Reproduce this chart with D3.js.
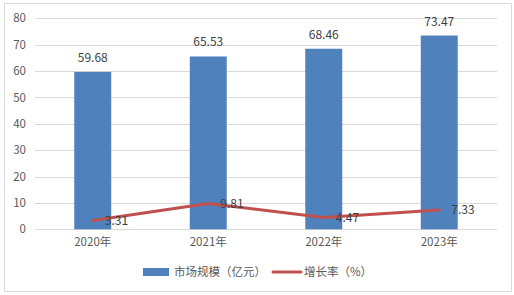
<!DOCTYPE html>
<html>
<head>
<meta charset="utf-8">
<script src="https://cdn.jsdelivr.net/npm/d3@7"></script>
<style>
  body { margin: 0; background: #fff; }
  text { font-family: "Noto Sans CJK SC", "DejaVu Sans", sans-serif; }
</style>
</head>
<body>
<svg id="chart" width="514" height="295"></svg>
<script>
var years = ["2020年", "2021年", "2022年", "2023年"];
var marketSize = [59.68, 65.53, 68.46, 73.47];
var growthRate = [3.31, 9.81, 4.47, 7.33];
var yTicks = [0, 10, 20, 30, 40, 50, 60, 70, 80];
var legendNames = ["市场规模（亿元）", "增长率（%）"];

var svg = d3.select("#chart");

var margin = { left: 35, right: 17, top: 18.3, bottom: 65.7 };
var W = 514, H = 295;

var palette = {
    bar: "#4f81bd",
    line: "#c0504d",
    grid: "#d9d9d9",
    text: "#404040",
    axisText: "#595959"
};

// border
svg.append("rect")
    .attr("x", 4.5).attr("y", 3.5)
    .attr("width", 507).attr("height", 288)
    .attr("fill", "#fff")
    .attr("stroke", palette.grid);

var x = d3.scaleBand()
    .domain(years)
    .range([margin.left, W - margin.right])
    .paddingInner(0.68)
    .paddingOuter(0.34);

var y = d3.scaleLinear()
    .domain([0, 80])
    .range([H - margin.bottom, margin.top]);

// grid
svg.append("g")
    .selectAll("line")
    .data(yTicks)
    .join("line")
    .attr("x1", margin.left)
    .attr("x2", W - margin.right)
    .attr("y1", function(d) { return Math.round(y(d)) + 0.5; })
    .attr("y2", function(d) { return Math.round(y(d)) + 0.5; })
    .attr("stroke", palette.grid);

// y axis labels
var yAxis = d3.axisLeft(y).tickValues(yTicks).tickSize(0).tickPadding(0);
var gy = svg.append("g")
    .attr("transform", "translate(" + 26 + ",0)")
    .call(yAxis);
gy.select(".domain").remove();
gy.selectAll("text")
    .attr("fill", palette.axisText)
    .style("font-size", "11.5px");

// x axis labels
var xAxis = d3.axisBottom(x).tickSize(0).tickPadding(0);
var gx = svg.append("g")
    .attr("transform", "translate(0," + 238 + ")")
    .call(xAxis);
gx.select(".domain").remove();
gx.selectAll("text")
    .attr("fill", palette.axisText)
    .style("font-size", "11.5px");

// bars
svg.append("g")
    .selectAll("rect")
    .data(marketSize)
    .join("rect")
    .attr("x", function(d, i) { return x(years[i]); })
    .attr("width", x.bandwidth())
    .attr("y", function(d) { return y(d); })
    .attr("height", function(d) { return y(0) - y(d); })
    .attr("fill", palette.bar);

svg.append("g")
    .selectAll("text")
    .data(marketSize)
    .join("text")
    .attr("x", function(d, i) { return x(years[i]) + x.bandwidth() / 2; })
    .attr("y", function(d) { return y(d) - 10; })
    .attr("text-anchor", "middle")
    .attr("fill", palette.text)
    .style("font-size", "12px")
    .text(function(d) { return d.toFixed(2); });

// growth line
var cx = function(i) { return x(years[i]) + x.bandwidth() / 2; };
var line = d3.line()
    .x(function(d, i) { return cx(i); })
    .y(function(d) { return y(d); });

svg.append("path")
    .datum(growthRate)
    .attr("d", line)
    .attr("fill", "none")
    .attr("stroke", palette.line)
    .attr("stroke-width", 3)
    .attr("stroke-linejoin", "round")
    .attr("stroke-linecap", "round");

svg.append("g")
    .selectAll("text")
    .data(growthRate)
    .join("text")
    .attr("x", function(d, i) { return cx(i) + 12; })
    .attr("y", function(d) { return y(d); })
    .attr("dy", "0.35em")
    .attr("fill", palette.text)
    .style("font-size", "12px")
    .text(function(d) { return d.toFixed(2); });

// legend
var legend = svg.append("g");
legend.append("rect")
    .attr("x", 143).attr("y", 268)
    .attr("width", 26).attr("height", 8)
    .attr("fill", palette.bar);
legend.append("text")
    .attr("x", 174).attr("y", 272)
    .attr("dy", "0.35em")
    .attr("fill", palette.axisText)
    .style("font-size", "11.5px")
    .text(legendNames[0]);
legend.append("line")
    .attr("x1", 273).attr("x2", 301)
    .attr("y1", 272).attr("y2", 272)
    .attr("stroke", palette.line)
    .attr("stroke-width", 3)
    .attr("stroke-linecap", "round");
legend.append("text")
    .attr("x", 304).attr("y", 272)
    .attr("dy", "0.35em")
    .attr("fill", palette.axisText)
    .style("font-size", "11.5px")
    .text(legendNames[1]);
</script>
</body>
</html>
